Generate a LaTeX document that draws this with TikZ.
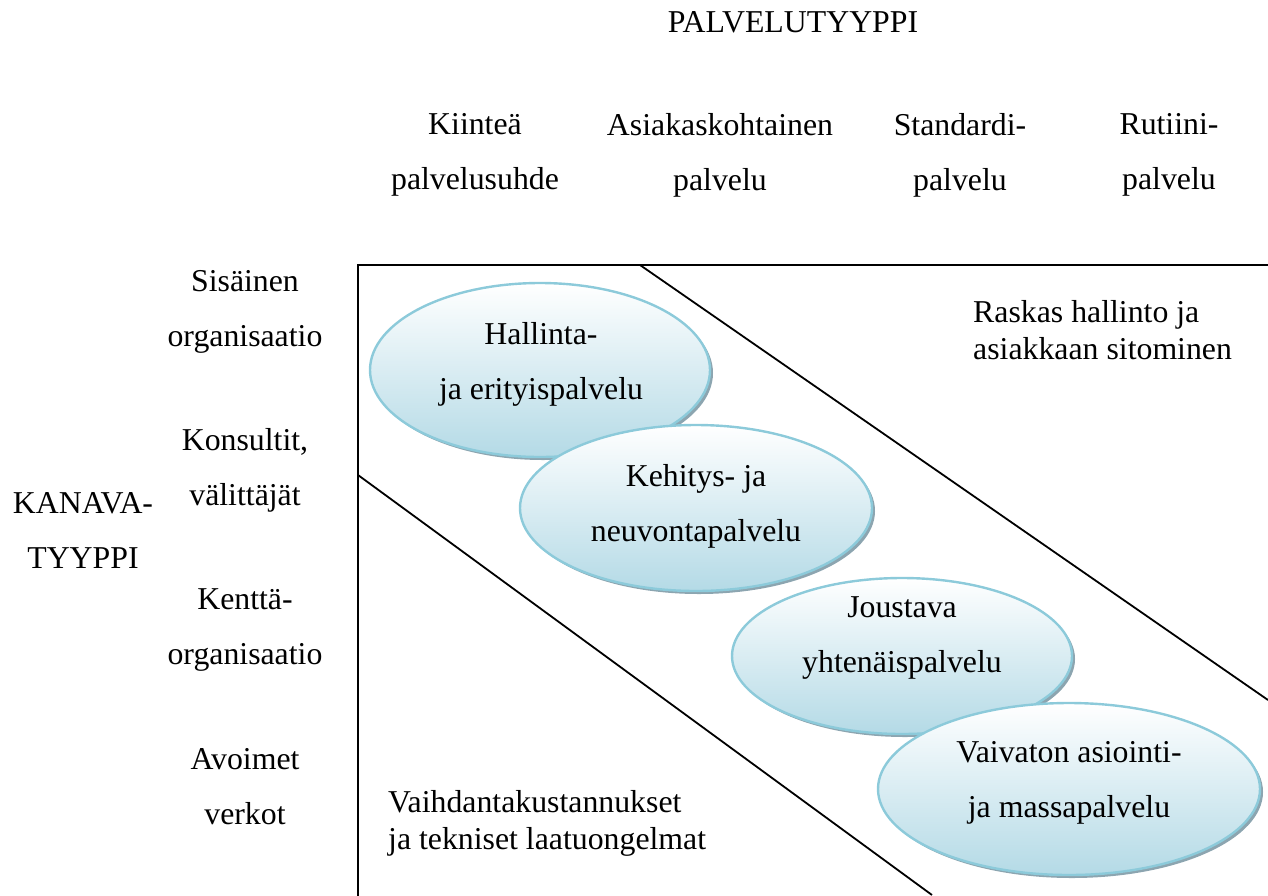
\documentclass[tikz,border=0pt]{standalone}
\usepackage{fontspec}
\setmainfont{Liberation Serif}
\usetikzlibrary{shapes.geometric}
\definecolor{ovalline}{RGB}{140,202,218}
\definecolor{ovalfill}{RGB}{180,218,230}
\definecolor{ovalshadow}{RGB}{140,165,176}
\begin{document}
\begin{tikzpicture}[x=1pt,y=-1pt,
  lbl/.style={font=\fontsize{31.8}{55}\selectfont, align=center, inner sep=0pt},
  tight/.style={font=\fontsize{31.8}{37}\selectfont, align=left, inner sep=0pt, anchor=west},
  oval/.style={ellipse, draw=ovalline, line width=2.4pt, top color=white, bottom color=ovalfill, inner sep=0pt},
  shadowoval/.style={ellipse, fill=ovalshadow, inner sep=0pt},
  frameline/.style={line width=2.3pt},
  diagline/.style={line width=1.8pt}]
\useasboundingbox (0,0) rectangle (1268,895);

% frame
\coordinate (fbl) at (358,897);
\coordinate (ftl) at (358,265);
\coordinate (ftr) at (1270,265);
\draw[frameline] (fbl) -- (ftl) -- (ftr);

% diagonals
\coordinate (d1a) at (640,265);
\coordinate (d1b) at (1268,700);
\coordinate (d2a) at (358,475);
\coordinate (d2b) at (932,895);
\draw[diagline] (d1a) -- (d1b);
\draw[diagline] (d2a) -- (d2b);

% header
\node[lbl] (title) at (793,22) {PALVELUTYYPPI};
\node[lbl] (c1) at (475,155) {Kiinteä\\palvelusuhde};
\node[lbl] (c2) at (720,155) {Asiakaskohtainen\\palvelu};
\node[lbl] (c3) at (960,155) {Standardi-\\palvelu};
\node[lbl] (c4) at (1169,155) {Rutiini-\\palvelu};

% left column
\node[lbl] (r1) at (245,312) {Sisäinen\\organisaatio};
\node[lbl] (r2) at (245,470) {Konsultit,\\välittäjät};
\node[lbl] (r3) at (245,630) {Kenttä-\\organisaatio};
\node[lbl] (r4) at (245,787) {Avoimet\\verkot};
\node[lbl] (kt) at (83,530) {KANAVA-\\TYYPPI};

% region texts
\node[tight] (ra) at (973,330) {Raskas hallinto ja\\asiakkaan sitominen};
\node[tight] (rb) at (388,823) {Vaihdantakustannukset\\ja tekniset laatuongelmat};

% ovals
\node[shadowoval, minimum width=340pt, minimum height=174pt] (s1) at (543,373) {};
\node[oval, minimum width=340pt, minimum height=174pt] (e1) at (540,370) {};
\node[lbl] (t1) at (541,364) {Hallinta-\\ja erityispalvelu};

\node[shadowoval, minimum width=352pt, minimum height=166pt] (s2) at (699,511) {};
\node[oval, minimum width=352pt, minimum height=166pt] (e2) at (696,508) {};
\node[lbl] (t2) at (696,506) {Kehitys- ja\\neuvontapalvelu};

\node[shadowoval, minimum width=340pt, minimum height=156pt] (s3) at (905,659) {};
\node[oval, minimum width=340pt, minimum height=156pt] (e3) at (902,656) {};
\node[lbl] (t3) at (902,638) {Joustava\\yhtenäispalvelu};

\node[shadowoval, minimum width=382pt, minimum height=172pt] (s4) at (1072,792) {};
\node[oval, minimum width=382pt, minimum height=172pt] (e4) at (1069,789) {};
\node[lbl] (t4) at (1069,783) {Vaivaton asiointi-\\ja massapalvelu};
\end{tikzpicture}
\end{document}
